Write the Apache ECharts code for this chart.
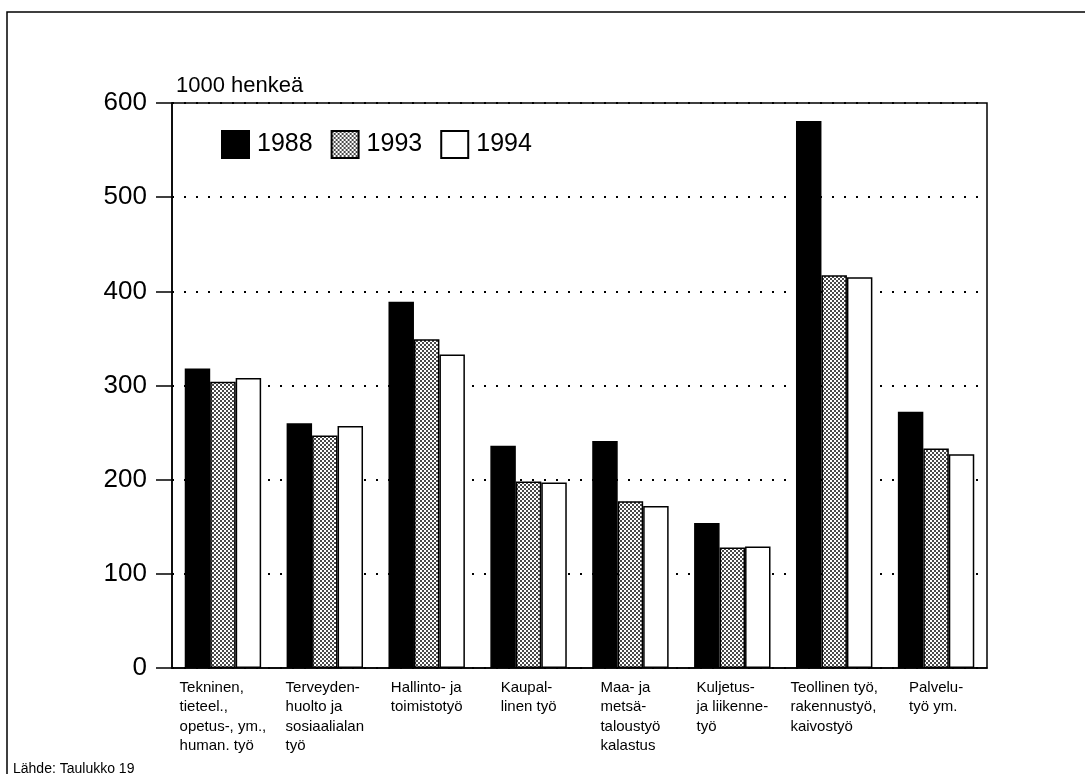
<!DOCTYPE html>
<html>
<head>
<meta charset="utf-8">
<script src="https://cdn.jsdelivr.net/npm/echarts@6/dist/echarts.min.js"></script>
<style>
html,body{margin:0;padding:0;background:#fff;}
#chart{width:1085px;height:774px;}
</style>
</head>
<body>
<div id="chart"></div>
<script>
var categories = [
  "Tekninen,\ntieteel.,\nopetus-, ym.,\nhuman. työ",
  "Terveyden-\nhuolto ja\nsosiaalialan\ntyö",
  "Hallinto- ja\ntoimistotyö",
  "Kaupal-\nlinen työ",
  "Maa- ja\nmetsä-\ntaloustyö\nkalastus",
  "Kuljetus-\nja liikenne-\ntyö",
  "Teollinen työ,\nrakennustyö,\nkaivostyö",
  "Palvelu-\ntyö ym."
];
var seriesNames = ["1988", "1993", "1994"];
var values1988 = [318, 260, 389, 236, 241, 154, 581, 272];
var values1993 = [304, 247, 349, 198, 177, 128, 417, 233];
var values1994 = [308, 257, 333, 197, 172, 129, 415, 227];
var yTicks = [0, 100, 200, 300, 400, 500, 600];

var font = "'Liberation Sans', Arial, Helvetica, sans-serif";

// stipple pattern for 1993
var pc = document.createElement('canvas');
pc.width = 4; pc.height = 4;
var pctx = pc.getContext('2d');
pctx.fillStyle = '#ffffff'; pctx.fillRect(0, 0, 4, 4);
pctx.fillStyle = '#4a4a4a';
pctx.fillRect(0, 0, 2, 2);
pctx.fillRect(2, 2, 2, 2);

var chart = echarts.init(document.getElementById('chart'), null, {renderer: 'canvas'});

var barBorder = {borderColor: '#000', borderWidth: 1.5};

var option = {
  backgroundColor: '#fff',
  animation: false,
  title: [
    {text: '1000 henkeä', left: 171, top: 70,
     textStyle: {fontFamily: font, fontSize: 22, fontWeight: 'normal', color: '#000'}},
    {text: 'Lähde: Taulukko 19', left: 8, top: 757,
     textStyle: {fontFamily: font, fontSize: 14, fontWeight: 'normal', color: '#000'}}
  ],
  graphic: [
    {type: 'rect', shape: {x: 7, y: 12, width: 1200, height: 900},
     style: {fill: 'none', stroke: '#000', lineWidth: 1.5}, silent: true}
  ],
  legend: {
    left: 216, top: 125,
    icon: 'rect',
    itemWidth: 27, itemHeight: 27, itemGap: 18,
    data: seriesNames,
    textStyle: {fontFamily: font, fontSize: 25, color: '#000', padding: [0, 0, 0, 3]}
  },
  grid: {
    left: 172, right: 98, top: 103, bottom: 106,
    show: true, borderColor: '#000', borderWidth: 1.5, backgroundColor: 'transparent'
  },
  xAxis: {
    type: 'category',
    data: categories,
    boundaryGap: true,
    axisLine: {show: true, lineStyle: {color: '#000', width: 1.5}},
    axisTick: {show: false},
    axisLabel: {
      interval: 0,
      margin: 10,
      align: 'center',
      formatter: function (v) {
        return v.split('\n').map(function (l) { return '{a|' + l + '}'; }).join('\n');
      },
      rich: {a: {fontFamily: font, fontSize: 15, lineHeight: 19.5, color: '#000', align: 'left'}}
    }
  },
  yAxis: {
    type: 'value',
    min: yTicks[0], max: yTicks[yTicks.length - 1], interval: 100,
    axisLine: {show: true, lineStyle: {color: '#000', width: 1.5}},
    axisTick: {show: true, length: 16, inside: false, lineStyle: {color: '#000', width: 1.5}},
    axisLabel: {margin: 25, fontFamily: font, fontSize: 26, color: '#000'},
    splitLine: {show: true, lineStyle: {color: '#000', width: 2, type: [2, 10]}}
  },
  series: [
    {name: seriesNames[0], type: 'bar', data: values1988, barGap: '0%', barCategoryGap: '25%',
     itemStyle: Object.assign({color: '#000'}, barBorder)},
    {name: seriesNames[1], type: 'bar', data: values1993, barGap: '0%', barCategoryGap: '25%',
     itemStyle: Object.assign({color: {image: pc, repeat: 'repeat'}}, barBorder)},
    {name: seriesNames[2], type: 'bar', data: values1994, barGap: '0%', barCategoryGap: '25%',
     itemStyle: Object.assign({color: '#fff'}, barBorder)}
  ]
};
chart.setOption(option);
</script>
</body>
</html>
